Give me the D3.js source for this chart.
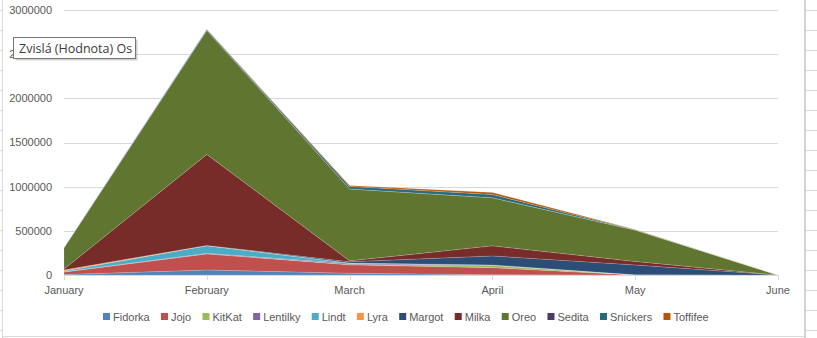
<!DOCTYPE html>
<html lang="cs">
<head>
<meta charset="UTF-8">
<title>Stacked area</title>
<script src="https://d3js.org/d3.v7.min.js"></script>
<style>
  body { margin: 0; background: #fff; }
  svg { display: block; font-family: "Liberation Sans", Arial, sans-serif; }
</style>
</head>
<body>
<svg width="817" height="338"></svg>
<script>
    // months on the category axis
    const months = ["January", "February", "March", "April", "May", "June"];

    // series values
    const fidorka  = [5000, 57000, 20000, 3000, 0, 0];
    const jojo     = [30000, 183000, 95000, 80000, 0, 0];
    const kitkat   = [0, 0, 5000, 25000, 2000, 0];
    const lentilky = [2000, 5000, 10000, 6000, 0, 0];
    const lindt    = [8000, 85000, 5000, 0, 0, 0];
    const lyra     = [12000, 5000, 0, 0, 0, 0];
    const margot   = [0, 0, 15000, 102000, 112000, 0];
    const milka    = [10000, 1030000, 10000, 114000, 40000, 0];
    const oreo     = [240000, 1400000, 815000, 545000, 355000, 0];
    const sedita   = [5000, 12000, 0, 0, 0, 0];
    const snickers = [0, 5000, 28000, 36000, 3000, 0];
    const toffifee = [0, 0, 10000, 24000, 2000, 0];

    const seriesNames = ["Fidorka", "Jojo", "KitKat", "Lentilky", "Lindt", "Lyra",
                         "Margot", "Milka", "Oreo", "Sedita", "Snickers", "Toffifee"];
    const seriesValues = [fidorka, jojo, kitkat, lentilky, lindt, lyra,
                          margot, milka, oreo, sedita, snickers, toffifee];
    const colors = ["#4F81BD", "#C0504D", "#9BBB59", "#8064A2", "#4BACC6", "#F79646",
                    "#2C4D75", "#772C2A", "#5F7530", "#4D3B62", "#276A7C", "#B65708"];

    const yTicks = [0, 500000, 1000000, 1500000, 2000000, 2500000, 3000000];

    // table for d3.stack
    const table = months.map((m, i) => {
        const row = {month: m};
        seriesNames.forEach((s, j) => row[s] = seriesValues[j][i]);
        return row;
    });

    const svg = d3.select("svg");
    const textColor = "#595959";
    const gridColor = "#d9d9d9";

    // spreadsheet lines behind the chart
    const sheet = svg.append("g");
    sheet.append("line").attr("x1", 2.5).attr("x2", 2.5).attr("y1", 0).attr("y2", 338)
        .attr("stroke", gridColor);
    sheet.append("line").attr("x1", 805).attr("x2", 805).attr("y1", 0).attr("y2", 338)
        .attr("stroke", "#d4d4d4").attr("stroke-width", 2);
    sheet.append("line").attr("x1", 2).attr("x2", 805).attr("y1", 336.5).attr("y2", 336.5)
        .attr("stroke", gridColor);
    d3.range(10, 338, 20).forEach(y => {
        sheet.append("line").attr("x1", 0).attr("x2", 2).attr("y1", y + 0.5).attr("y2", y + 0.5)
            .attr("stroke", gridColor);
        sheet.append("line").attr("x1", 806).attr("x2", 817).attr("y1", y + 0.5).attr("y2", y + 0.5)
            .attr("stroke", gridColor);
    });

    const x = d3.scalePoint().domain(months).range([64, 778]);
    const y = d3.scaleLinear().domain([0, 3000000]).range([275, 10]);

    // gridlines
    svg.append("g").selectAll("line").data(yTicks.slice(1)).join("line")
        .attr("x1", 64).attr("x2", 778)
        .attr("y1", d => Math.round(y(d)) + 0.5).attr("y2", d => Math.round(y(d)) + 0.5)
        .attr("stroke", gridColor);

    // y labels
    svg.append("g").selectAll("text").data(yTicks).join("text")
        .attr("x", 52).attr("y", d => y(d))
        .attr("dy", "0.35em").attr("text-anchor", "end")
        .attr("font-size", 11).attr("fill", textColor)
        .text(d => d);

    // stacked areas
    const stack = d3.stack().keys(seriesNames);
    const layers = stack(table);
    const area = d3.area()
        .x(d => x(d.data.month))
        .y0(d => y(d[0]))
        .y1(d => y(d[1]));

    svg.append("g").selectAll("path").data(layers).join("path")
        .attr("d", area)
        .attr("fill", (d, i) => colors[i])
        .attr("stroke", "#ffffff")
        .attr("stroke-opacity", 0.25)
        .attr("stroke-width", 0.6);

    // x axis line, ticks and labels
    const xAxis = svg.append("g");
    xAxis.append("line").attr("x1", 64).attr("x2", 778).attr("y1", 275.5).attr("y2", 275.5)
        .attr("stroke", gridColor);
    xAxis.selectAll("line.tick").data(months).join("line").attr("class", "tick")
        .attr("x1", d => Math.round(x(d)) + 0.5).attr("x2", d => Math.round(x(d)) + 0.5)
        .attr("y1", 275).attr("y2", 280)
        .attr("stroke", gridColor);
    xAxis.selectAll("text").data(months).join("text")
        .attr("x", d => x(d)).attr("y", 294)
        .attr("text-anchor", "middle")
        .attr("font-size", 11).attr("fill", textColor)
        .text(d => d);

    // legend
    const legend = svg.append("g");
    let lx = 103;
    seriesNames.forEach((s, i) => {
        legend.append("rect").attr("x", lx).attr("y", 313).attr("width", 7).attr("height", 7)
            .attr("fill", colors[i]);
        const t = legend.append("text").attr("x", lx + 10).attr("y", 321)
            .attr("font-size", 11).attr("fill", textColor).text(s);
        lx += 10 + t.node().getComputedTextLength() + 11.3;
    });

    // hover tooltip from the screenshot (it covers the 2500000 label there too)
    const tip = svg.append("g");
    tip.append("rect").attr("x", 15.5).attr("y", 39.5).attr("width", 122).attr("height", 21)
        .attr("fill", "#a0a0a0").attr("opacity", 0.5);
    tip.append("rect").attr("x", 13.5).attr("y", 37.5).attr("width", 122).attr("height", 21)
        .attr("fill", "#fff").attr("stroke", "#767676");
    tip.append("text").attr("x", 19).attr("y", 52.5)
        .attr("font-family", "'Open Sans', sans-serif")
        .attr("font-size", 12.5).attr("fill", "#3a3a3a")
        .text("Zvislá (Hodnota) Os");
</script>
</body>
</html>
